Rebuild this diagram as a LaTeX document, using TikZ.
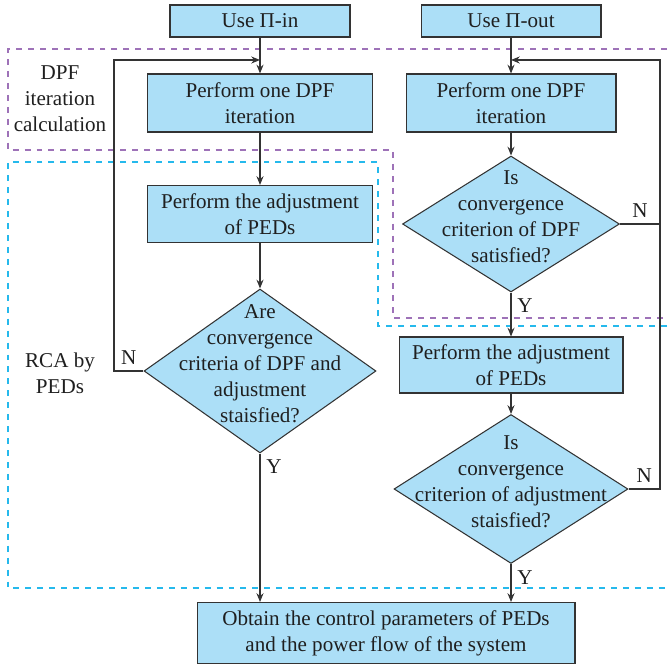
\documentclass[tikz,border=0pt]{standalone}
\usepackage{fontspec}
\setmainfont{Liberation Serif}
\usetikzlibrary{shapes.geometric,arrows.meta}
\definecolor{boxblue}{HTML}{ACDFF7}
\definecolor{zonepurple}{HTML}{9E72B8}
\definecolor{zonecyan}{HTML}{25B9EC}
\definecolor{inkgray}{HTML}{333333}
\newcommand{\dtext}[1]{\smash{\begin{tabular}[c]{@{}c@{}}#1\end{tabular}}}

\begin{document}
\begin{tikzpicture}[x=0.02cm,y=-0.02cm,
    font=\fontsize{12}{14.8}\selectfont, text=black!88,
    procbox/.style={draw=inkgray, fill=boxblue, line width=0.6pt, align=center, inner sep=0pt},
    decision/.style={diamond, aspect=1.5, draw=inkgray, fill=boxblue, line width=0.6pt, inner sep=0pt},
    flow/.style={draw=inkgray, line width=0.6pt, -{Stealth[length=5pt,width=4pt]}},
    loopline/.style={draw=inkgray, line width=0.6pt},
    zone/.style={line width=0.8pt, dash pattern=on 3.4pt off 3.4pt}]
    \useasboundingbox (0,0) rectangle (667,668);
    \draw[zone, zonepurple] (667,49) -- (8,49) -- (8,150) -- (393,150) -- (393,318) -- (667,318);
    \draw[zone, zonecyan] (667,326) -- (378,326) -- (378,162) -- (8,162) -- (8,588) -- (667,588);
    \node[align=center] (dpfzone) at (60,99) {DPF\\iteration\\calculation};
    \node[align=center] (rcazone) at (60,373) {RCA by\\PEDs};

    \node[procbox, minimum width=3.6cm, minimum height=0.64cm] (usein) at (260,21) {Use Π-in};
    \node[procbox, minimum width=3.6cm, minimum height=0.64cm] (useout) at (511,21) {Use Π-out};
    \node[procbox, minimum width=4.5cm, minimum height=1.16cm] (dpfL) at (260,103) {Perform one DPF\\iteration};
    \node[procbox, minimum width=4.2cm, minimum height=1.16cm] (dpfR) at (511,103) {Perform one DPF\\iteration};
    \node[procbox, minimum width=4.5cm, minimum height=1.14cm] (adjL) at (260,214) {Perform the adjustment\\of PEDs};
    \node[decision, minimum width=4.64cm, minimum height=3.28cm] (decL) at (260,371) {\dtext{Are\\convergence\\criteria of DPF and\\adjustment\\staisfied?}};
    \node[decision, minimum width=4.34cm, minimum height=2.72cm] (decR1) at (511,224) {\dtext{Is\\convergence\\criterion of DPF\\satisfied?}};
    \node[procbox, minimum width=4.48cm, minimum height=1.12cm] (adjR) at (511,365) {Perform the adjustment\\of PEDs};
    \node[decision, minimum width=4.68cm, minimum height=2.98cm] (decR2) at (511,489) {\dtext{Is\\convergence\\criterion of adjustment\\staisfied?}};
    \node[procbox, minimum width=7.56cm, minimum height=1.22cm] (final) at (386,633) {Obtain the control parameters of PEDs\\and the power flow of the system};

    \coordinate (mergeL) at (260,60);
    \coordinate (mergeR) at (511,60);
    \coordinate (loopL) at (114,60);
    \coordinate (loopR) at (660,60);

    \draw[flow] (usein) -- (dpfL);
    \draw[flow] (dpfL) -- (adjL);
    \draw[flow] (adjL) -- (decL);
    \draw[flow] (decL.west) -- node[above] {N} (decL.west -| loopL) -- (loopL) -- (mergeL);
    \draw[flow] (decL.south) -- node[pos=0, below right] {Y} (decL.south |- final.north);

    \draw[flow] (useout) -- (dpfR);
    \draw[flow] (dpfR) -- (decR1);
    \draw[flow] (decR1.south) -- node[pos=0, below right] {Y} (adjR.north);
    \draw[flow] (adjR) -- (decR2);
    \draw[loopline] (decR1.east) -- node[above] {N} (decR1.east -| loopR);
    \draw[flow] (decR2.east) -- node[above] {N} (decR2.east -| loopR) -- (loopR) -- (mergeR);
    \draw[flow] (decR2.south) -- node[pos=0, below right] {Y} (decR2.south |- final.north);
\end{tikzpicture}
\end{document}
